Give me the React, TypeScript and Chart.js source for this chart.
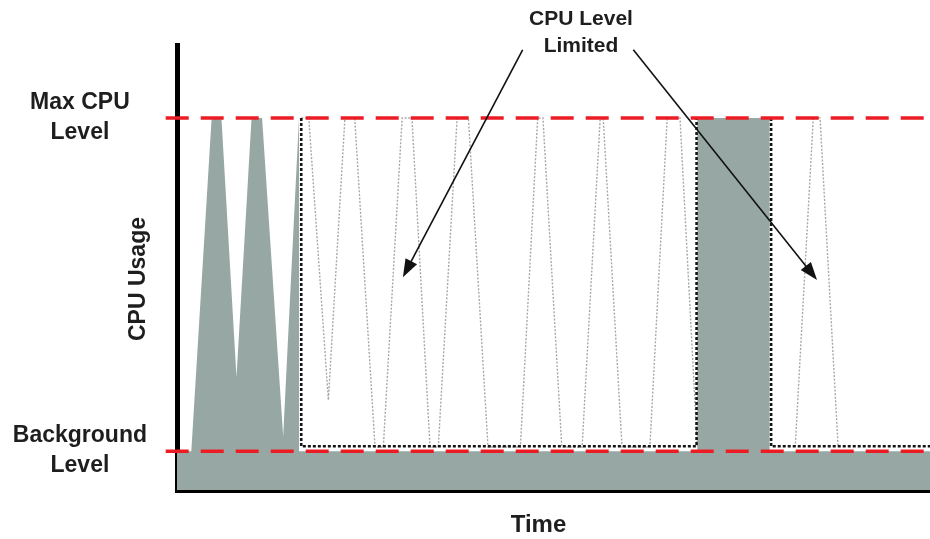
import React, { useEffect, useRef } from "react";
import { Chart, registerables } from "chart.js";

Chart.register(...registerables);

// ---- data (time in arbitrary units 0..100, CPU level in %) ----
const maxLevel = 100;
const backgroundLevel = 10;

const usageTime = [0, 1.9, 4.6, 5.9, 7.9, 9.9, 11.3, 14.1, 16.2, 16.2, 69.1, 69.1, 78.7, 78.7, 100];
const usageLevel = [10, 10, 100, 100, 30, 100, 100, 14, 100, 10, 10, 100, 100, 10, 10];

const limitedTime = [16.5, 16.5, 69.0, 69.0, 74, 78.9, 78.9, 100];
const limitedLevel = [100, 11.3, 11.3, 100, null, 100, 11.3, 11.3];

const unlimitedTime = [
  16.5, 17.5, 20.1, 22.3, 23.6, 26.3, 27.4, 29.9, 31.2, 33.6, 34.7, 37.2, 38.7, 41.3, 45.6,
  47.9, 48.6, 51.1, 53.8, 56.2, 56.6, 59.1, 62.8, 65.1, 66.8, 69.1, 75, 82.1, 84.5, 85.4, 87.8,
];
const unlimitedLevel = [
  100, 100, 23.8, 100, 100, 11.1, 11.1, 100, 100, 11.1, 11.1, 100, 100, 11.1, 11.1,
  100, 100, 11.1, 11.1, 100, 100, 11.1, 11.1, 100, 100, 11.1, null, 11.1, 100, 100, 11.1,
];

const thresholdTime = [-1.5, 100];

const tickValues = [backgroundLevel, maxLevel];
const tickLabels: Record<number, string[]> = {
  10: ["Background", "Level"],
  100: ["Max CPU", "Level"],
};

const calloutLines = ["CPU Level", "Limited"];
const calloutTime = 53.65;
const arrowFromTime = [45.9, 60.6];
const arrowFromLevel = [118.4, 118.4];
const arrowToTime = [30.0, 85.0];
const arrowToLevel = [57.0, 56.2];

const xTitle = "Time";
const xTitleTime = 48;
const yTitle = "CPU Usage";

// ---- styles ----
const FONT = '"Liberation Sans", Arial, sans-serif';
const textColor = "#1e1e1e";
const fillColor = "#97a8a4";
const redColor = "rgb(236, 28, 36)";

const toXY = (xs: number[], ys: (number | null)[]) => xs.map((x, i) => ({ x, y: ys[i] }));

const annotationPlugin = {
  id: "annotations",
  afterDraw(chart: any) {
    const { ctx } = chart;
    const x = chart.scales.x;
    const y = chart.scales.y;
    ctx.save();
    ctx.fillStyle = textColor;
    ctx.strokeStyle = "#111";
    ctx.textAlign = "center";
    ctx.textBaseline = "alphabetic";

    // callout text
    ctx.font = `bold 21px ${FONT}`;
    const cx = x.getPixelForValue(calloutTime);
    calloutLines.forEach((line, i) => ctx.fillText(line, cx, 25 + i * 27));

    // arrows
    ctx.lineWidth = 1.6;
    for (let i = 0; i < arrowFromTime.length; i++) {
      const x0 = x.getPixelForValue(arrowFromTime[i]);
      const y0 = y.getPixelForValue(arrowFromLevel[i]);
      const x1 = x.getPixelForValue(arrowToTime[i]);
      const y1 = y.getPixelForValue(arrowToLevel[i]);
      const dx = x1 - x0;
      const dy = y1 - y0;
      const len = Math.hypot(dx, dy);
      const ux = dx / len;
      const uy = dy / len;
      const headLen = 18;
      const headW = 6.5;
      ctx.beginPath();
      ctx.moveTo(x0, y0);
      ctx.lineTo(x1 - ux * (headLen - 2), y1 - uy * (headLen - 2));
      ctx.stroke();
      const bx = x1 - ux * headLen;
      const by = y1 - uy * headLen;
      ctx.beginPath();
      ctx.moveTo(x1, y1);
      ctx.lineTo(bx - uy * headW, by + ux * headW);
      ctx.lineTo(bx + uy * headW, by - ux * headW);
      ctx.closePath();
      ctx.fillStyle = "#111";
      ctx.fill();
    }

    // x title
    ctx.fillStyle = textColor;
    ctx.font = `bold 24px ${FONT}`;
    ctx.fillText(xTitle, x.getPixelForValue(xTitleTime), 532);

    // y title
    ctx.font = `bold 23px ${FONT}`;
    ctx.translate(145, 279);
    ctx.rotate(-Math.PI / 2);
    ctx.fillText(yTitle, 0, 0);
    ctx.restore();
  },
};

export default function App() {
  const canvasRef = useRef<HTMLCanvasElement | null>(null);

  useEffect(() => {
    if (!canvasRef.current) return;
    const chart = new Chart(canvasRef.current, {
      type: "line",
      data: {
        datasets: [
          {
            label: "Max CPU Level",
            data: toXY(thresholdTime, [maxLevel, maxLevel]),
            borderColor: redColor,
            borderWidth: 3.5,
            borderDash: [23, 12],
            pointRadius: 0,
            fill: false,
            clip: false as any,
            order: 0,
          },
          {
            label: "Background Level",
            data: toXY(thresholdTime, [backgroundLevel, backgroundLevel]),
            borderColor: redColor,
            borderWidth: 3.5,
            borderDash: [23, 12],
            pointRadius: 0,
            fill: false,
            clip: false as any,
            order: 0,
          },
          {
            label: "Limited",
            data: toXY(limitedTime, limitedLevel),
            borderColor: "#151515",
            borderWidth: 2.6,
            borderDash: [3, 2],
            pointRadius: 0,
            fill: false,
            spanGaps: false,
            order: 1,
          },
          {
            label: "Unlimited",
            data: toXY(unlimitedTime, unlimitedLevel),
            borderColor: "#a8a8a8",
            borderWidth: 1.4,
            borderDash: [2, 1.6],
            pointRadius: 0,
            fill: false,
            spanGaps: false,
            order: 2,
          },
          {
            label: "CPU Usage",
            data: toXY(usageTime, usageLevel),
            borderWidth: 0,
            borderColor: fillColor,
            backgroundColor: fillColor,
            pointRadius: 0,
            fill: "start",
            order: 3,
          },
        ],
      },
      options: {
        animation: false,
        responsive: true,
        maintainAspectRatio: false,
        devicePixelRatio: 1,
        layout: { padding: { top: 45, left: 0, right: 0, bottom: 0 } },
        plugins: {
          legend: { display: false },
          tooltip: { enabled: false },
        },
        scales: {
          x: {
            type: "linear",
            min: 0,
            max: 100,
            z: 1,
            grid: { display: false, drawTicks: false },
            border: { display: true, color: "#000", width: 5 },
            ticks: { display: false },
            afterFit: (scale: any) => {
              scale.height = 49;
              scale.paddingLeft = 0;
              scale.paddingRight = 0;
            },
          },
          y: {
            type: "linear",
            min: -0.5,
            max: 119.7,
            z: 1,
            grid: { display: false, drawTicks: false },
            border: { display: true, color: "#000", width: 5 },
            afterBuildTicks: (scale: any) => {
              scale.ticks = tickValues.map((v) => ({ value: v }));
            },
            afterFit: (scale: any) => {
              scale.width = 177;
              scale.paddingTop = 0;
              scale.paddingBottom = 0;
            },
            ticks: {
              autoSkip: false,
              padding: 30,
              crossAlign: "center",
              color: textColor,
              font: { family: FONT, size: 23, weight: "bold", lineHeight: 30 / 23 },
              callback: (value: any) => tickLabels[value as number] ?? "",
            },
          },
        },
      },
      plugins: [annotationPlugin],
    } as any);
    return () => chart.destroy();
  }, []);

  return (
    <div style={{ position: "fixed", left: 0, top: 0, width: 930, height: 539, background: "#fff" }}>
      <canvas ref={canvasRef} />
    </div>
  );
}
